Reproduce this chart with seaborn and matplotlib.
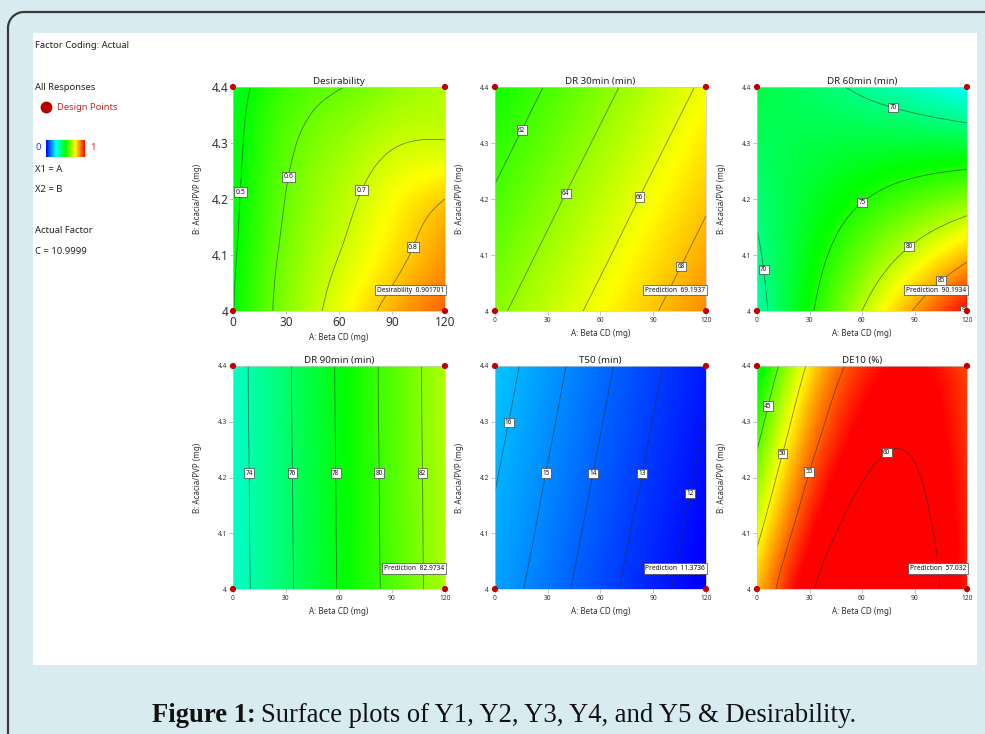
import numpy as np
import matplotlib
matplotlib.use("Agg")
import matplotlib.pyplot as plt
import matplotlib.tri as mtri
from matplotlib.colors import LinearSegmentedColormap, Normalize
from matplotlib.patches import Rectangle, Arc
from matplotlib.lines import Line2D
import matplotlib.cm as cm
import seaborn as sns
import pandas as pd

sns.set_style("white")
plt.rcParams["font.family"] = ["Noto Sans", "DejaVu Sans"]

# ---------------- data ----------------
A_LEVELS = [0, 30, 60, 90, 120]          # A: Beta CD (mg)
B_LEVELS = [4.0, 4.1, 4.2, 4.3, 4.4]     # B: Acacia/PVP (mg)
A_TICKS = [0, 30, 60, 90, 120]
B_TICKS = [4.0, 4.1, 4.2, 4.3, 4.4]

DESIGN_A = [0, 120, 0, 120]
DESIGN_B = [4.0, 4.0, 4.4, 4.4]

# rows: B = 4.0 ... 4.4, columns: A = 0 ... 120
DESIRABILITY = [
    [0.497, 0.630, 0.730, 0.826, 0.902],
    [0.490, 0.617, 0.700, 0.775, 0.850],
    [0.482, 0.602, 0.676, 0.745, 0.800],
    [0.475, 0.585, 0.645, 0.693, 0.704],
    [0.465, 0.556, 0.597, 0.640, 0.680],
]
DR30 = [
    [63.67, 65.07, 66.46, 67.86, 69.25],
    [62.93, 64.33, 65.72, 67.12, 68.51],
    [62.20, 63.60, 64.99, 66.39, 67.78],
    [61.46, 62.86, 64.25, 65.65, 67.04],
    [60.72, 62.12, 63.51, 64.91, 66.30],
]
DR60 = [
    [68.80, 74.53, 80.00, 85.23, 90.20],
    [69.64, 73.66, 77.43, 80.95, 84.22],
    [70.45, 72.77, 74.83, 76.65, 78.20],
    [71.24, 71.85, 72.21, 72.32, 72.17],
    [72.00, 70.91, 69.55, 67.96, 66.11],
]
DR90 = [
    [73.20, 75.65, 78.10, 80.54, 82.99],
    [73.23, 75.68, 78.13, 80.57, 83.02],
    [73.25, 75.70, 78.15, 80.59, 83.04],
    [73.28, 75.73, 78.18, 80.62, 83.07],
    [73.30, 75.75, 78.20, 80.64, 83.09],
]
T50 = [
    [15.60, 14.49, 13.38, 12.34, 11.37],
    [15.83, 14.72, 13.60, 12.55, 11.56],
    [16.06, 14.94, 13.83, 12.77, 11.76],
    [16.29, 15.17, 14.05, 12.98, 11.95],
    [16.52, 15.39, 14.27, 13.19, 12.14],
]
DE10 = [
    [51.96, 59.51, 62.87, 62.04, 57.02],
    [49.24, 57.42, 61.41, 61.20, 56.81],
    [46.43, 55.24, 59.85, 60.28, 56.52],
    [43.53, 52.96, 58.21, 59.26, 56.13],
    [40.53, 50.59, 56.47, 58.15, 55.64],
]

TITLES = ["Desirability", "DR 30min (min)", "DR 60min (min)",
          "DR 90min (min)", "T50 (min)", "DE10 (%)"]
GRIDS = [DESIRABILITY, DR30, DR60, DR90, T50, DE10]
LEVELS = [[0.5, 0.6, 0.7, 0.8], [62, 64, 66, 68], [70, 75, 80, 85, 90],
          [74, 76, 78, 80, 82], [12, 13, 14, 15, 16], [45, 50, 55, 60]]
PRED_TEXT = ["Desirability  0.901701", "Prediction  69.1937", "Prediction  90.1934",
             "Prediction  82.9734", "Prediction  11.3736", "Prediction  57.032"]

# ---------------- styling ----------------
COLOR_RANGES = [(0.0, 1.0), (48.3, 72.6), (58.0, 90.2),
                (65.25, 91.75), (11.5, 37.0), (26.0, 58.0)]
LABEL_POS = [
    [(3.8, 4.212), (32.5, 4.239), (75.6, 4.212), (96.4, 4.121)],
    [(14.6, 4.324), (39.3, 4.211), (80.6, 4.206), (105.9, 4.079)],
    [(77.8, 4.362), (3.8, 4.074), (60.2, 4.194), (85.4, 4.121), (102.5, 4.064), (115, 4.014)],
    [(9.4, 4.208), (33.8, 4.208), (58, 4.208), (82.6, 4.208), (107.2, 4.208)],
    [(7.2, 4.299), (28.5, 4.208), (54.7, 4.208), (83.1, 4.208), (110, 4.172)],
    [(6.3, 4.328), (14.2, 4.243), (30, 4.21), (73.5, 4.248)],
]
# axes boxes in pixels: left, top, right, bottom
BOXES = [(233, 87, 445, 311), (495, 87, 706, 311), (757, 87, 967, 311),
         (233, 366, 445, 589), (495, 366, 706, 589), (757, 366, 967, 589)]

W, H = 985, 734
fig = plt.figure(figsize=(W / 100, H / 100), dpi=100, facecolor="#d7ebf1")


def fx(x):
    return x / W


def fy(y):
    return 1 - y / H


fig.add_artist(Rectangle((fx(33), fy(665)), (977 - 33) / W, (665 - 33) / H,
                         transform=fig.transFigure, fc="white", ec="none", zorder=-5))
# frame: left edge + rounded top-left corner + top edge (in inches)
x_l, y_t, rad = 0.08, 7.22, 0.16
frame_kw = dict(transform=fig.dpi_scale_trans, color="#3a3a3a", lw=1.6,
                solid_capstyle="butt", zorder=-4)
fig.add_artist(Line2D([x_l, x_l], [0.0, y_t - rad], **frame_kw))
fig.add_artist(Line2D([x_l + rad, W / 100], [y_t, y_t], **frame_kw))
fig.add_artist(Arc((x_l + rad, y_t - rad), 2 * rad, 2 * rad, theta1=90, theta2=180,
                   transform=fig.dpi_scale_trans, ec="#3a3a3a", lw=1.6, zorder=-4))

cmap = LinearSegmentedColormap.from_list(
    "dx", ["#0000ff", "#00ffff", "#00ff00", "#ffff00", "#ff0000"])

Agrid, Bgrid = np.meshgrid(np.array(A_LEVELS, float), np.array(B_LEVELS, float))
a0, a1 = min(A_LEVELS), max(A_LEVELS)
b0, b1 = min(B_LEVELS), max(B_LEVELS)
u = ((Agrid - a0) / (a1 - a0)).ravel()
v = ((Bgrid - b0) / (b1 - b0)).ravel()
tri_n = mtri.Triangulation(u, v)
refiner = mtri.UniformTriRefiner(tri_n)
design = pd.DataFrame({"A": DESIGN_A, "B": DESIGN_B})

for i in range(6):
    l, t, r, b = BOXES[i]
    big = (i == 0)
    ax = fig.add_axes([fx(l), fy(b), (r - l) / W, (b - t) / H])
    Z = np.array(GRIDS[i], float).ravel()
    interp = mtri.CubicTriInterpolator(tri_n, Z, kind="min_E")
    tri_r, z_r = refiner.refine_field(Z, triinterpolator=interp, subdiv=4)
    tri_p = mtri.Triangulation(a0 + tri_r.x * (a1 - a0), b0 + tri_r.y * (b1 - b0),
                               tri_r.triangles)
    vmin, vmax = COLOR_RANGES[i]
    ax.tripcolor(tri_p, z_r, shading="gouraud", cmap=cmap, vmin=vmin, vmax=vmax)
    cs = ax.tricontour(tri_p, z_r, levels=LEVELS[i], colors="#2e2e2e",
                       linewidths=0.6, alpha=0.6)
    ax.clabel(cs, levels=LEVELS[i], manual=LABEL_POS[i], inline=False,
              fontsize=5 if big else 4.6, fmt=lambda val: f"{val:g}")
    for txt in cs.labelTexts:
        txt.set_rotation(0)
        txt.set_color("#111111")
        txt.set_bbox(dict(boxstyle="square,pad=0.2", fc="white", ec="#444444", lw=0.5))

    sns.scatterplot(data=design, x="A", y="B", ax=ax, color="#c00000", s=20,
                    edgecolor="none", zorder=6, clip_on=False, legend=False)

    ax.text(a1 - 0.5, b0 + 0.037, PRED_TEXT[i], ha="right", va="center",
            fontsize=4.8, color="#111111", zorder=7,
            bbox=dict(boxstyle="square,pad=0.25", fc="white", ec="#444444", lw=0.5))

    ax.set_xlim(a0, a1)
    ax.set_ylim(b0, b1)
    ax.set_xticks(A_TICKS)
    ax.set_xticklabels([f"{a:g}" for a in A_TICKS])
    ax.set_yticks(B_TICKS)
    ax.set_yticklabels([f"{bb:g}" for bb in B_TICKS])
    ax.tick_params(axis="both", which="both", direction="out",
                   length=3.2 if not big else 2.5, width=0.6, color="#b5b5b5",
                   labelsize=8.5 if big else 4.8, labelcolor="#333333",
                   pad=1.2 if not big else 1.0,
                   bottom=True, left=True, top=False, right=False)
    for sp in ax.spines.values():
        sp.set_color("#c8c8c8")
        sp.set_linewidth(0.5)

    ax.set_xlabel("A: Beta CD (mg)", fontsize=5.8, color="#333333", va="center")
    ax.set_ylabel("B: Acacia/PVP (mg)", fontsize=5.8, color="#333333", va="center")
    hpx = b - t
    wpx = r - l
    ax.xaxis.set_label_coords(0.5, -(27 if big else 23) / hpx)
    ax.yaxis.set_label_coords(-35 / wpx, 0.5)
    ax.set_title(TITLES[i], fontsize=7, color="#222222", pad=2.5)

# ---------------- left information panel ----------------
txt_kw = dict(fontsize=6.8, color="#222222", va="center", ha="left")
fig.text(fx(35), fy(45), "Factor Coding: Actual", **txt_kw)
fig.text(fx(35), fy(87), "All Responses", fontweight="bold", **txt_kw)
fig.add_artist(Line2D([fx(46)], [fy(107)], marker="o", ms=7.5, color="#b80000",
                      transform=fig.transFigure, lw=0))
fig.text(fx(57), fy(107), "Design Points", fontsize=6.8, color="#c0282d",
         va="center", ha="left")
fig.text(fx(35), fy(148), "0", fontsize=6.8, color="#3030ff", va="center", ha="left")
fig.text(fx(90), fy(148), "1", fontsize=6.8, color="#ee2020", va="center", ha="left")
cax = fig.add_axes([fx(46), fy(157), (85 - 46) / W, (157 - 140) / H])
cb = fig.colorbar(cm.ScalarMappable(norm=Normalize(0, 1), cmap=cmap), cax=cax,
                  orientation="horizontal")
cb.set_ticks([])
cb.outline.set_linewidth(0)
fig.text(fx(35), fy(169), "X1 = A", **txt_kw)
fig.text(fx(35), fy(189), "X2 = B", **txt_kw)
fig.text(fx(35), fy(231), "Actual Factor", fontweight="bold", **txt_kw)
fig.text(fx(35), fy(252), "C = 10.9999", **txt_kw)

# ---------------- caption ----------------
renderer = fig.canvas.get_renderer()
cap_font = ["Liberation Serif", "DejaVu Serif"]
cap1 = fig.text(fx(152), fy(715), "Figure 1:", fontsize=19.2, fontweight="bold",
                family=cap_font, color="#111111", va="center", ha="left")
bb1 = cap1.get_window_extent(renderer=renderer)
fig.text(bb1.x1 / W + 5 / W, fy(715), "Surface plots of Y1, Y2, Y3, Y4, and Y5 & Desirability.",
         fontsize=19.2, family=cap_font, color="#111111", va="center", ha="left")

fig.savefig("out.png", dpi=100, facecolor=fig.get_facecolor())
